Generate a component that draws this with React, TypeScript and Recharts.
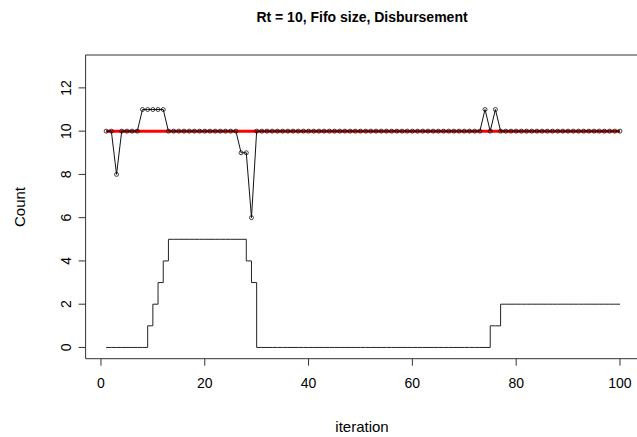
import React from 'react';
import { LineChart, Line, XAxis, YAxis, ReferenceLine } from 'recharts';

// iteration index (x)
const iterations = [
  1, 2, 3, 4, 5, 6, 7, 8, 9, 10,
  11, 12, 13, 14, 15, 16, 17, 18, 19, 20,
  21, 22, 23, 24, 25, 26, 27, 28, 29, 30,
  31, 32, 33, 34, 35, 36, 37, 38, 39, 40,
  41, 42, 43, 44, 45, 46, 47, 48, 49, 50,
  51, 52, 53, 54, 55, 56, 57, 58, 59, 60,
  61, 62, 63, 64, 65, 66, 67, 68, 69, 70,
  71, 72, 73, 74, 75, 76, 77, 78, 79, 80,
  81, 82, 83, 84, 85, 86, 87, 88, 89, 90,
  91, 92, 93, 94, 95, 96, 97, 98, 99, 100,
];

// disbursement count per iteration (black, with points)
const disbursement = [
  10, 10, 8, 10, 10, 10, 10, 11, 11, 11,
  11, 11, 10, 10, 10, 10, 10, 10, 10, 10,
  10, 10, 10, 10, 10, 10, 9, 9, 6, 10,
  10, 10, 10, 10, 10, 10, 10, 10, 10, 10,
  10, 10, 10, 10, 10, 10, 10, 10, 10, 10,
  10, 10, 10, 10, 10, 10, 10, 10, 10, 10,
  10, 10, 10, 10, 10, 10, 10, 10, 10, 10,
  10, 10, 10, 11, 10, 11, 10, 10, 10, 10,
  10, 10, 10, 10, 10, 10, 10, 10, 10, 10,
  10, 10, 10, 10, 10, 10, 10, 10, 10, 10,
];

// Rt target (red)
const rt = [
  10, 10, 10, 10, 10, 10, 10, 10, 10, 10,
  10, 10, 10, 10, 10, 10, 10, 10, 10, 10,
  10, 10, 10, 10, 10, 10, 10, 10, 10, 10,
  10, 10, 10, 10, 10, 10, 10, 10, 10, 10,
  10, 10, 10, 10, 10, 10, 10, 10, 10, 10,
  10, 10, 10, 10, 10, 10, 10, 10, 10, 10,
  10, 10, 10, 10, 10, 10, 10, 10, 10, 10,
  10, 10, 10, 10, 10, 10, 10, 10, 10, 10,
  10, 10, 10, 10, 10, 10, 10, 10, 10, 10,
  10, 10, 10, 10, 10, 10, 10, 10, 10, 10,
];

// fifo size (step line)
const fifoSize = [
  0, 0, 0, 0, 0, 0, 0, 0, 1, 2,
  3, 4, 5, 5, 5, 5, 5, 5, 5, 5,
  5, 5, 5, 5, 5, 5, 5, 4, 3, 0,
  0, 0, 0, 0, 0, 0, 0, 0, 0, 0,
  0, 0, 0, 0, 0, 0, 0, 0, 0, 0,
  0, 0, 0, 0, 0, 0, 0, 0, 0, 0,
  0, 0, 0, 0, 0, 0, 0, 0, 0, 0,
  0, 0, 0, 0, 1, 1, 2, 2, 2, 2,
  2, 2, 2, 2, 2, 2, 2, 2, 2, 2,
  2, 2, 2, 2, 2, 2, 2, 2, 2, 2,
];

const xTicks = [0, 20, 40, 60, 80, 100];
const yTicks = [0, 2, 4, 6, 8, 10, 12];

const FONT = '"Liberation Sans", Arial, Helvetica, sans-serif';

const data = iterations.map((it, i) => ({
  iteration: it,
  disb: disbursement[i],
  rt: rt[i],
  fifo: fifoSize[i],
}));

const YTick = (props: any) => {
  const { x, y, payload } = props;
  return (
    <text
      x={x}
      y={y}
      transform={`rotate(-90 ${x} ${y})`}
      textAnchor="middle"
      fontSize={14}
      fontFamily={FONT}
      fill="#000"
    >
      {payload.value}
    </text>
  );
};

const App = () => {
  return (
    <div style={{ position: 'absolute', left: 0, top: 0, width: 637, height: 437, background: '#fff' }}>
      <LineChart
        width={637}
        height={437}
        data={data}
        margin={{ top: 55, right: 0, bottom: 0, left: 0 }}
      >
        <XAxis
          type="number"
          dataKey="iteration"
          domain={[-2.96, 103.28]}
          ticks={xTicks}
          allowDataOverflow
          height={78.3}
          axisLine={false}
          tickLine={{ stroke: '#333' }}
          tickSize={7}
          tickMargin={12}
          tick={{ fill: '#000', fontSize: 14, fontFamily: FONT }}
        />
        <YAxis
          type="number"
          domain={[-0.52, 13.52]}
          ticks={yTicks}
          allowDataOverflow
          width={85.6}
          axisLine={false}
          tickLine={{ stroke: '#333' }}
          tickSize={7}
          tickMargin={8}
          tick={<YTick />}
        />
        <ReferenceLine y={13.52} stroke="#333" strokeWidth={1} />
        <ReferenceLine y={-0.52} stroke="#333" strokeWidth={1} />
        <ReferenceLine x={-2.96} stroke="#333" strokeWidth={1} />
        <Line
          type="linear"
          dataKey="rt"
          stroke="#ff0000"
          strokeWidth={3}
          dot={false}
          isAnimationActive={false}
        />
        <Line
          type="linear"
          dataKey="disb"
          stroke="#111"
          strokeWidth={1}
          dot={{ r: 2, stroke: '#111', strokeWidth: 0.8, fill: 'none' }}
          isAnimationActive={false}
        />
        <Line
          type="stepAfter"
          dataKey="fifo"
          stroke="#222"
          strokeWidth={1}
          dot={false}
          isAnimationActive={false}
        />
      </LineChart>
      <svg
        width={637}
        height={437}
        style={{ position: 'absolute', left: 0, top: 0, pointerEvents: 'none' }}
      >
        <text x={362} y={22} textAnchor="middle" fontSize={14} fontWeight="bold" fontFamily={FONT} fill="#000">
          Rt = 10, Fifo size, Disbursement
        </text>
        <text x={362} y={432} textAnchor="middle" fontSize={15} fontFamily={FONT} fill="#000">
          iteration
        </text>
        <text transform="translate(25,207) rotate(-90)" textAnchor="middle" fontSize={15} fontFamily={FONT} fill="#000">
          Count
        </text>
      </svg>
    </div>
  );
};

export default App;
